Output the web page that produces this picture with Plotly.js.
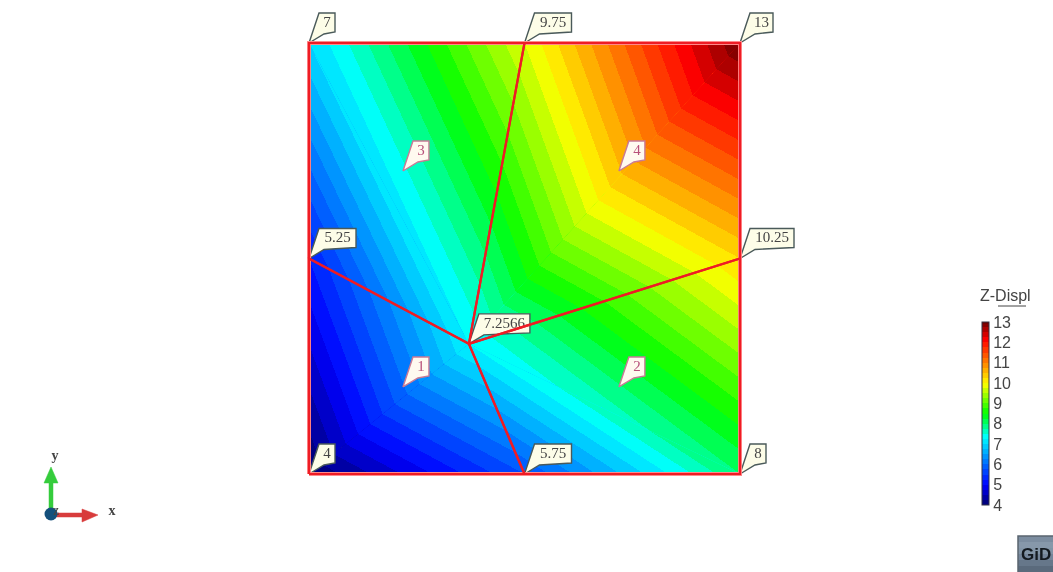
<!DOCTYPE html>
<html><head><meta charset="utf-8">
<script src="https://cdn.plot.ly/plotly-3.0.1.min.js"></script>
<style>html,body{margin:0;padding:0;background:#fff}#c{width:1053px;height:572px;filter:blur(0.75px)}
.contour path,.contourfill path,.contourbg path{shape-rendering:crispEdges;stroke-width:0}</style>
</head><body><div id="c"></div>
<script>
// mesh nodes
const nodeX = [0, 0.5, 1, 0, 0.371, 1, 0, 0.5, 1];
const nodeY = [0, 0, 0, 0.5, 0.302, 0.5, 1, 1, 1];
const nodeValues = [4, 5.75, 8, 5.25, 7.2566, 10.25, 7, 9.75, 13];
const elementIds = ['1', '2', '3', '4'];
const elementX = [0.218, 0.719, 0.218, 0.719];
const elementY = [0.202, 0.202, 0.703, 0.703];
const elementNodes = [[0,1,4,3],[1,2,5,4],[4,5,8,7],[3,4,7,6]];
const triangles = [[4,0,1],[4,3,0],[4,1,2],[4,2,5],[4,5,8],[4,8,7],[4,7,6],[4,6,3]];
const colorTicks = [4,5,6,7,8,9,10,11,12,13];
const rainbow = [[0,'#00006e'],[0.111,'#0000ff'],[0.372,'#00ffff'],[0.5,'#00ff00'],[0.661,'#ffff00'],[0.9,'#ff0000'],[1,'#730000']];

const W = 1053, H = 572, S = 431, OX = 309, OY = 474;
const px = p => (p - OX) / S, py = p => (OY - p) / S;
const traces = [];

triangles.forEach((t, i) => {
  const id = 'tri' + i, [a, b, c] = t;
  const hidden = {smoothing:0, showgrid:false, showline:false, startline:false, endline:false,
    showticklabels:'none', minorgridcount:0, tickmode:'array', tickvals:[], ticktext:[]};
  traces.push({type:'carpet', carpet:id, a:[0,1], b:[0,1],
    x:[[nodeX[a],nodeX[b]],[nodeX[c],nodeX[c]]], y:[[nodeY[a],nodeY[b]],[nodeY[c],nodeY[c]]],
    aaxis:hidden, baxis:hidden, hoverinfo:'skip'});
  const tr = {type:'contourcarpet', carpet:id, a:[0,1], b:[0,1],
    z:[[nodeValues[a],nodeValues[b]],[nodeValues[c],nodeValues[c]]],
    autocontour:false, contours:{start:4, end:13, size:0.25, coloring:'fill', showlines:false},
    line:{width:0, smoothing:0}, colorscale:rainbow, zmin:4, zmax:13, zauto:false, showscale:i===0};
  if (i === 0) tr.colorbar = {x:982/W, xanchor:'left', xref:'paper', y:(H-505)/H, yanchor:'bottom', yref:'paper',
    thickness:7, thicknessmode:'pixels', len:183, lenmode:'pixels', xpad:0, ypad:0,
    outlinewidth:1, outlinecolor:'#334', tickmode:'array', tickvals:colorTicks, ticktext:colorTicks.map(String),
    ticks:'', ticklabelposition:'outside', tickfont:{family:'Liberation Sans', size:16, color:'#444'}};
  traces.push(tr);
});

// callouts
function callouts(tipsX, tipsY, labels, fill, line, color, size) {
  const xs = [], ys = [], tx = [], ty = [];
  labels.forEach((s, i) => {
    const w = 9 + 7 * s.length, dx = tipsX[i], dy = tipsY[i];
    [[0,0],[10,30],[10+w,30],[10+w,11],[15,9],[0,0]].forEach(o => { xs.push(dx + o[0]/S); ys.push(dy + o[1]/S); });
    xs.push(null); ys.push(null);
    tx.push(dx + (10 + w/2)/S); ty.push(dy + 20/S);
  });
  traces.push({type:'scatter', mode:'lines', x:xs, y:ys, fill:'toself', fillcolor:fill, line:{color:line, width:1.4}, hoverinfo:'skip'});
  traces.push({type:'scatter', mode:'text', x:tx, y:ty, text:labels, textposition:'middle center',
    textfont:{family:'Liberation Serif', size:size, color:color}, hoverinfo:'skip'});
}
callouts(nodeX, nodeY, nodeValues.map(String), '#fdfde8', '#4a5a5a', '#444', 15);
callouts(elementX, elementY, elementIds, '#fffaf0', '#c87a96', '#b8507a', 15);

// mesh edges
const outer = [0,1,2,5,8,7,6,3,0];
traces.push({type:'scatter', mode:'lines', x:outer.map(n=>nodeX[n]), y:outer.map(n=>nodeY[n]), line:{color:'#ff8a8a', width:4}, hoverinfo:'skip'});
const edgeX = [], edgeY = [];
elementNodes.forEach(e => { [...e, e[0]].forEach(n => { edgeX.push(nodeX[n]); edgeY.push(nodeY[n]); }); edgeX.push(null); edgeY.push(null); });
traces.push({type:'scatter', mode:'lines', x:edgeX, y:edgeY, line:{color:'#ee1c25', width:2.2}, hoverinfo:'skip'});

// triad
function poly(pts, color) {
  traces.push({type:'scatter', mode:'lines', x:pts.map(p=>px(p[0])), y:pts.map(p=>py(p[1])), fill:'toself', fillcolor:color, line:{color:color, width:0.5}, hoverinfo:'skip'});
}
poly([[49,515],[49,483],[44,483],[51,467],[58,483],[53,483],[53,515]], '#35cc3c');
poly([[51,513],[82,513],[82,509],[98,515],[82,522],[82,517],[51,517]], '#d83c3c');
traces.push({type:'scatter', mode:'markers', x:[px(51)], y:[py(514)], marker:{size:13, color:'#14507c'}, hoverinfo:'skip'});
traces.push({type:'scatter', mode:'text', x:[px(56), px(55), px(112)], y:[py(511), py(456), py(511)], text:['z','<b>y</b>','<b>x</b>'], textposition:'middle center',
  textfont:{family:'Liberation Serif', size:14, color:'#444'}, hoverinfo:'skip'});

// GiD badge: stepped gradient
const badgeTones = ['#7c8da0','#8798aa','#8294a6','#74859a','#66778a','#5a6a7c'];
const shapes = [
  {type:'line', xref:'paper', yref:'paper', x0:998/W, x1:1026/W, y0:1-306/H, y1:1-306/H, line:{color:'#444', width:1}},
];
badgeTones.forEach((c, i) => shapes.push({type:'rect', xref:'paper', yref:'paper', x0:1018/W, x1:1, y0:1-(536+6*i)/H, y1:1-(542+6*i)/H, fillcolor:c, line:{width:0}, layer:'above'}));
shapes.push({type:'rect', xref:'paper', yref:'paper', x0:1018/W, x1:1.01, y0:-0.01, y1:1-536/H, fillcolor:'rgba(0,0,0,0)', line:{color:'#59646f', width:1.5}, layer:'above'});
const annotations = [
  {xref:'paper', yref:'paper', x:978/W, xanchor:'left', y:1-295/H, yanchor:'middle', text:'Z-Displ', showarrow:false, font:{family:'Liberation Sans', size:16, color:'#444'}},
  {xref:'paper', yref:'paper', x:1036/W, xanchor:'center', y:1-554/H, yanchor:'middle', text:'<b>GiD</b>', showarrow:false, borderpad:0, font:{family:'Liberation Sans', size:17, color:'#141a20'}}
];

Plotly.newPlot('c', traces, {
  width:W, height:H, margin:{l:0,r:0,t:0,b:0}, showlegend:false, paper_bgcolor:'#fff', plot_bgcolor:'#fff',
  xaxis:{range:[px(0), px(W)], visible:false, fixedrange:true},
  yaxis:{range:[py(H), py(0)], visible:false, fixedrange:true},
  shapes, annotations
}, {displayModeBar:false, staticPlot:true});
</script></body></html>
